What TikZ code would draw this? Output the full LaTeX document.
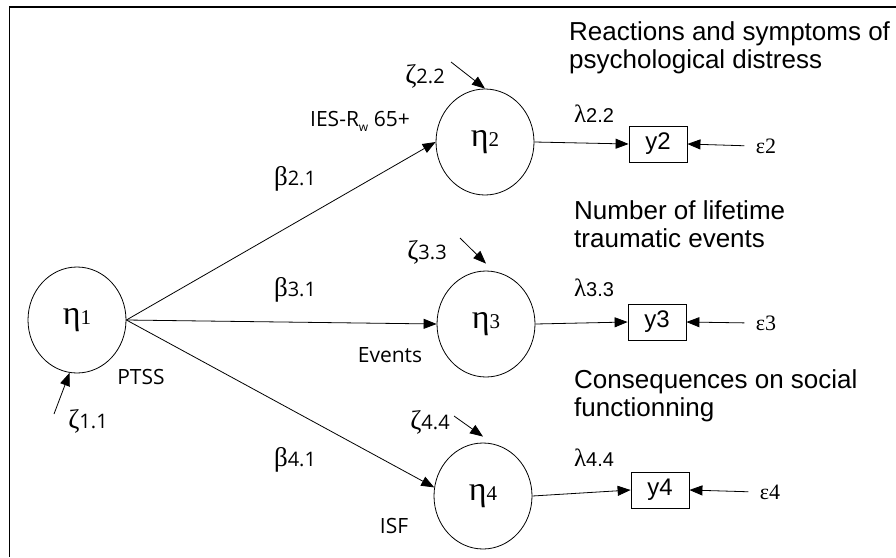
\documentclass[tikz,border=0pt]{standalone}
\usepackage{fontspec}
\setmainfont{Liberation Sans}
\newfontfamily\grkfont{Liberation Serif}
\newfontfamily\lblfont{Open Sans}
\usetikzlibrary{arrows.meta, shapes.geometric, positioning}

\newcommand{\etavar}[1]{{\grkfont\fontsize{34}{34}\selectfont η}{\grkfont\fontsize{21}{21}\selectfont #1}}
\newcommand{\coef}[2]{{\grkfont\fontsize{27}{27}\selectfont #1}{\lblfont\fontsize{20}{20}\selectfont #2}}
\newcommand{\loadvar}[2]{{\grkfont\fontsize{25}{25}\selectfont #1}{\fontsize{20}{20}\selectfont #2}}
\newcommand{\errvar}[1]{{\grkfont\fontsize{22}{22}\selectfont ε#1}}

\begin{document}
\begin{tikzpicture}[x=1pt, y=-1pt,
    latent/.style={draw, ellipse, line width=0.8pt, minimum width=98pt, minimum height=106pt, inner sep=0pt},
    obs/.style={draw, rectangle, line width=0.8pt, minimum width=58pt, minimum height=36pt, inner sep=0pt, font=\fontsize{24}{24}\selectfont},
    arrowline/.style={-{Triangle[length=13pt, width=10pt]}, line width=0.8pt},
    lbl/.style={font=\lblfont\fontsize{21}{24}\selectfont, inner sep=1pt},
    heading/.style={font=\fontsize{26}{28}\selectfont, align=left, anchor=west, inner sep=0pt}]

    \useasboundingbox (0,0) rectangle (896,557);

    % Frame
    \draw[line width=1.2pt] (896,7) -- (9.5,7) -- (9.5,557);

    % Latent variables
    \node[latent] (eta1) at (77,320) {\etavar{1}};
    \node[latent] (eta2) at (485,142) {\etavar{2}};
    \node[latent] (eta3) at (486,324) {\etavar{3}};
    \node[latent] (eta4) at (483,496) {\etavar{4}};

    \node[lbl] (ptss) at (141,377) {PTSS};
    \node[lbl] (ies) at (360,121) {IES-R\raisebox{-0.45ex}{\fontsize{12}{12}\selectfont w} 65+};
    \node[lbl] (events) at (390,355) {Events};
    \node[lbl] (isf) at (394,526) {ISF};

    % Structural paths
    \draw[arrowline] (eta1.east) -- (eta2.west);
    \draw[arrowline] (eta1.east) -- (eta3.west);
    \draw[arrowline] (eta1.east) -- (eta4.170);
    \node (b21) at (295,179) {\coef{β}{2.1}};
    \node (b31) at (295,290) {\coef{β}{3.1}};
    \node (b41) at (295,460) {\coef{β}{4.1}};

    % Disturbances
    \node (z11) at (88,421) {\coef{ζ}{1.1}};
    \node (z22) at (425,76) {\coef{ζ}{2.2}};
    \node (z33) at (427,252) {\coef{ζ}{3.3}};
    \node (z44) at (430,422) {\coef{ζ}{4.4}};
    \coordinate (z11s) at (54,414);
    \coordinate (z22s) at (451,62);
    \coordinate (z33s) at (460,238);
    \coordinate (z44s) at (454,416);
    \draw[arrowline] (z11s) -- (eta1.262);
    \draw[arrowline] (z22s) -- (eta2.north);
    \draw[arrowline] (z33s) -- ([yshift=7pt]eta3.north);
    \draw[arrowline] (z44s) -- ([yshift=6pt]eta4.north);

    % Observed indicators
    \node[obs] (y2) at (658,144) {y2};
    \node[obs] (y3) at (657,322) {y3};
    \node[obs] (y4) at (660,490) {y4};
    \draw[arrowline] (eta2.east) -- (y2.west);
    \draw[arrowline] (eta3.east) -- (y3.west);
    \draw[arrowline] (eta4.east) -- (y4.west);
    \node (l22) at (594,114) {\loadvar{λ}{2.2}};
    \node (l33) at (594,288) {\loadvar{λ}{3.3}};
    \node (l44) at (594,458) {\loadvar{λ}{4.4}};

    % Measurement errors
    \node (e2) at (766,146) {\errvar{2}};
    \node (e3) at (766,323) {\errvar{3}};
    \node (e4) at (770,492) {\errvar{4}};
    \draw[arrowline, shorten <=8pt] (e2.west) -- (y2.east);
    \draw[arrowline, shorten <=8pt] (e3.west) -- (y3.east);
    \draw[arrowline, shorten <=8pt] (e4.west) -- (y4.east);

    % Headings
    \node[heading] (h2) at (569,48) {Reactions and symptoms of\\psychological distress};
    \node[heading] (h3) at (574,224) {Number of lifetime\\traumatic events};
    \node[heading] (h4) at (574,396) {Consequences on social\\functionning};

\end{tikzpicture}
\end{document}
